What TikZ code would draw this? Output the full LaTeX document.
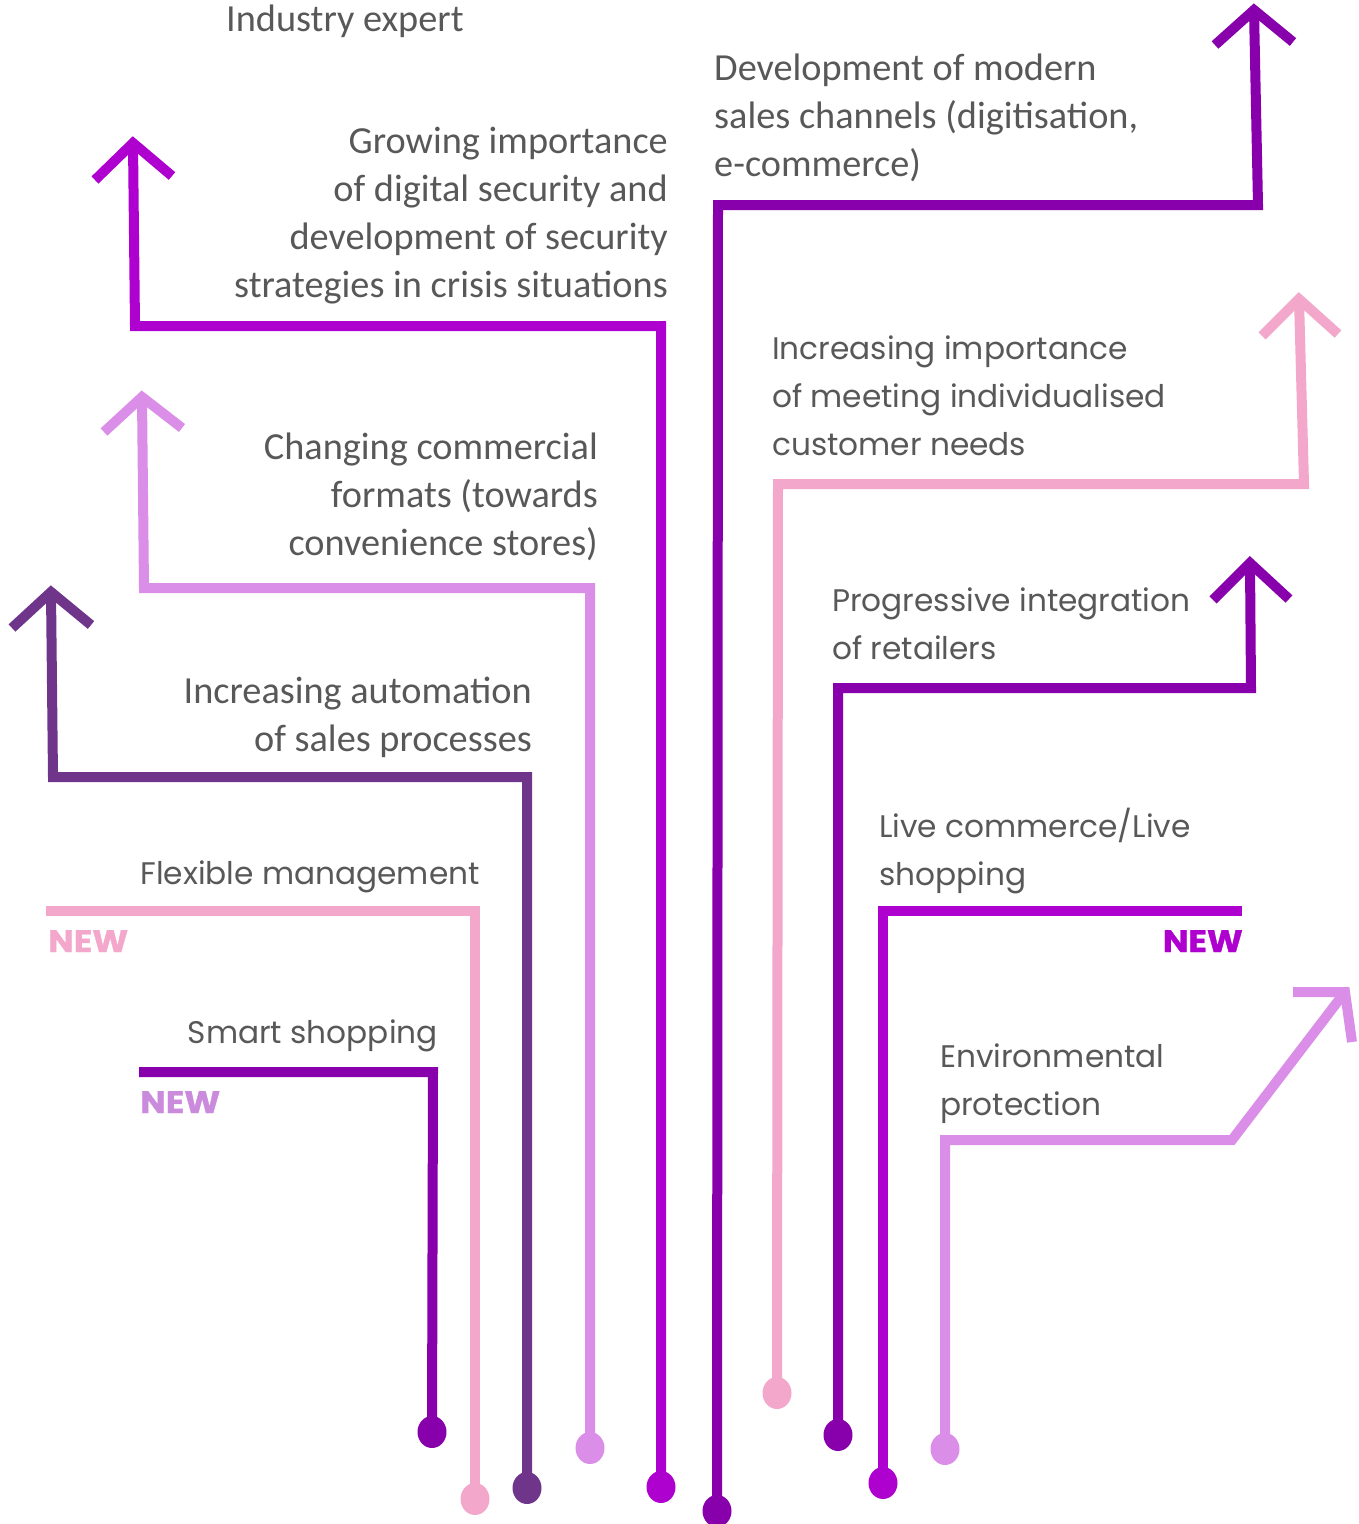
\documentclass[tikz,border=0pt]{standalone}
\usepackage{fontspec}
\setmainfont{Poppins}
\newfontfamily\hum{Carlito}
\newfontfamily\newfnt{Poppins}[FakeStretch=1.1, FakeBold=1.2]
\definecolor{cMag}{HTML}{AE00CE}
\definecolor{cPur}{HTML}{8700AB}
\definecolor{cLil}{HTML}{DB8EE8}
\definecolor{cPink}{HTML}{F3A8CB}
\definecolor{cVio}{HTML}{6F358A}
\definecolor{cNew}{HTML}{CB8BDD}
\definecolor{txt}{HTML}{585858}
\begin{document}
\begin{tikzpicture}[x=1pt,y=-1pt,
  ln/.style={line width=10pt, miter limit=10},
  lblH/.style={text=txt, inner sep=0pt, font=\hum\fontsize{38.3}{48}\selectfont},
  lblM/.style={text=txt, inner sep=0pt, font=\fontsize{31.2}{48}\selectfont},
  newtag/.style={inner sep=0pt, font=\newfnt\bfseries\fontsize{31}{36}\selectfont}]
\useasboundingbox (0,0) rectangle (1358,1524);

% coordinates
\coordinate (dA) at (661,1487); \coordinate (cA1) at (661,326); \coordinate (cA2) at (135,326); \coordinate (tA) at (133,143);
\coordinate (lA) at (95,180); \coordinate (rA) at (172,176);
\coordinate (dB) at (717,1511); \coordinate (cB1) at (718,205); \coordinate (cB2) at (1258,205); \coordinate (tB) at (1254,10);
\coordinate (lB) at (1215,45); \coordinate (rB) at (1293,42);
\coordinate (dC) at (590,1448); \coordinate (cC1) at (590,588); \coordinate (cC2) at (144,588); \coordinate (tC) at (142,397);
\coordinate (lC) at (104,432); \coordinate (rC) at (182,428);
\coordinate (dD) at (527,1488); \coordinate (cD1) at (527,777); \coordinate (cD2) at (53,777); \coordinate (tD) at (51,592);
\coordinate (lD) at (12,628); \coordinate (rD) at (91,625);
\coordinate (dE) at (475,1499); \coordinate (cE1) at (475,911); \coordinate (eE) at (46,911);
\coordinate (dF) at (432,1432); \coordinate (cF1) at (433,1072); \coordinate (eF) at (139,1072);
\coordinate (dG) at (777,1393); \coordinate (cG1) at (778,484); \coordinate (cG2) at (1304,484); \coordinate (tG) at (1299,299);
\coordinate (lG) at (1262,336); \coordinate (rG) at (1338,334);
\coordinate (dH) at (838,1435); \coordinate (cH1) at (838,688); \coordinate (cH2) at (1251,688); \coordinate (tH) at (1250,563);
\coordinate (lH) at (1213,600); \coordinate (rH) at (1289,599);
\coordinate (dI) at (883,1483); \coordinate (cI1) at (883,911); \coordinate (eI) at (1242,911);
\coordinate (dJ) at (945,1449); \coordinate (cJ1) at (945,1140); \coordinate (cJ2) at (1232,1140); \coordinate (tJ) at (1345,992);
\coordinate (lJ) at (1293,992); \coordinate (rJ) at (1352,1042);

% lines
\draw[ln, cMag] (dA) -- (cA1) -- (cA2) -- (tA); \draw[ln, cMag] (lA) -- (tA) -- (rA);
\draw[ln, cPur] (dB) -- (cB1) -- (cB2) -- (tB); \draw[ln, cPur] (lB) -- (tB) -- (rB);
\draw[ln, cLil] (dC) -- (cC1) -- (cC2) -- (tC); \draw[ln, cLil] (lC) -- (tC) -- (rC);
\draw[ln, cVio] (dD) -- (cD1) -- (cD2) -- (tD); \draw[ln, cVio] (lD) -- (tD) -- (rD);
\draw[ln, cPink] (dE) -- (cE1) -- (eE);
\draw[ln, cPur] (dF) -- (cF1) -- (eF);
\draw[ln, cPink] (dG) -- (cG1) -- (cG2) -- (tG); \draw[ln, cPink] (lG) -- (tG) -- (rG);
\draw[ln, cPur] (dH) -- (cH1) -- (cH2) -- (tH); \draw[ln, cPur] (lH) -- (tH) -- (rH);
\draw[ln, cMag] (dI) -- (cI1) -- (eI);
\draw[ln, cLil] (dJ) -- (cJ1) -- (cJ2) -- (tJ); \draw[ln, cLil] (lJ) -- (tJ) -- (rJ);

% dots
\foreach \p/\c in {dA/cMag, dB/cPur, dC/cLil, dD/cVio, dE/cPink, dF/cPur, dG/cPink, dH/cPur, dI/cMag, dJ/cLil}
  \fill[\c] (\p) ellipse [x radius=14.5pt, y radius=16pt];

% labels (base anchor = baseline of last line)
\node[lblH, anchor=base west] (tExp) at (226,31) {Industry expert};
\node[lblH, anchor=base east, align=right] (tGrow) at (668,297) {Growing importance\\of digital security and\\development of security\\strategies in crisis situations};
\node[lblH, anchor=base west, align=left] (tDev) at (714,176) {Development of modern\\sales channels (digitisation,\\e-commerce)};
\node[lblH, anchor=base east, align=right] (tChg) at (598,555) {Changing commercial\\formats (towards\\convenience stores)};
\node[lblH, anchor=base east, align=right] (tAut) at (532,751) {Increasing automation\\of sales processes};
\node[lblM, anchor=base east] (tFlex) at (480,884) {Flexible management};
\node[lblM, anchor=base east] (tSmart) at (438,1043) {Smart shopping};
\node[lblM, anchor=base west, align=left] (tInd) at (772,455) {Increasing importance\\of meeting individualised\\customer needs};
\node[lblM, anchor=base west, align=left] (tProg) at (832,659) {Progressive integration\\of retailers};
\node[lblM, anchor=base west, align=left] (tLive) at (879,885) {Live commerce/Live\\shopping};
\node[lblM, anchor=base west, align=left] (tEnv) at (940,1115) {Environmental\\protection};
\node[newtag, text=cPink, anchor=base west] (nE) at (48,952) {NEW};
\node[newtag, text=cNew, anchor=base west] (nF) at (140,1113) {NEW};
\node[newtag, text=cMag, anchor=base east] (nI) at (1243,952) {NEW};
\end{tikzpicture}
\end{document}
